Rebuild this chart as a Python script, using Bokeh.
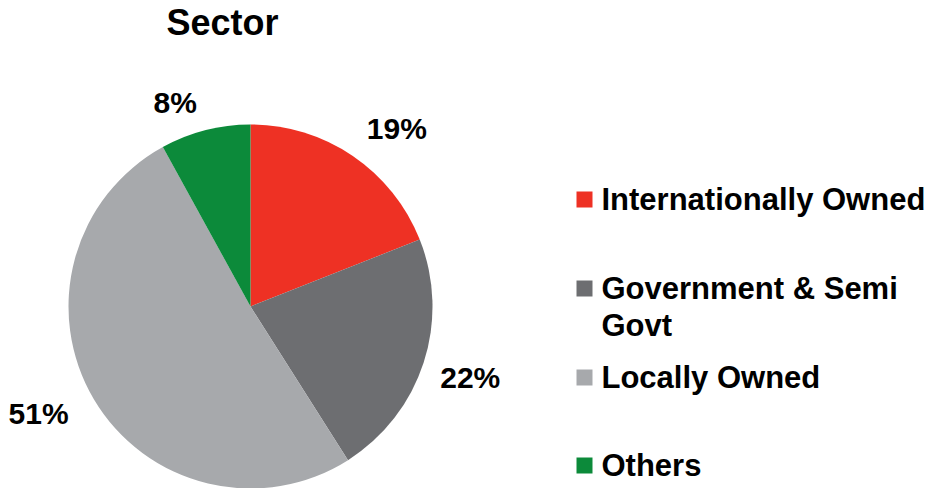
import math
from bokeh.plotting import figure
from bokeh.models import Range1d, ColumnDataSource
from bokeh.core.properties import value
from bokeh.embed import file_html
from bokeh.resources import INLINE

# ---- data ----
categories = ["Internationally Owned", "Government & Semi\nGovt", "Locally Owned", "Others"]
shares = [19, 22, 51, 8]
pct_labels = ["19%", "22%", "51%", "8%"]
colors = ["#EE3124", "#6D6E71", "#A7A9AC", "#0C8A3A"]
title_text = "Sector"

# ---- layout / style ----
W, H = 930, 488
FONT = "Liberation Sans"
cx, cy, R = 250, 182, 182
label_r = 230
label_dx = [17, 1, -14, -18]     # screen px nudges
label_dy = [12, 0, -10, 19]

total = float(sum(shares))
starts, ends, mids = [], [], []
acc = 0.0
for v in shares:
    a0 = math.pi / 2 - 2 * math.pi * acc / total
    acc += v
    a1 = math.pi / 2 - 2 * math.pi * acc / total
    starts.append(a0)
    ends.append(a1)
    mids.append((a0 + a1) / 2)

p = figure(width=W, height=H, x_range=Range1d(0, W), y_range=Range1d(0, H),
           output_backend="svg", toolbar_location=None, min_border=0)
p.axis.visible = False
p.grid.visible = False
p.outline_line_color = None
p.background_fill_color = "white"

src = ColumnDataSource(dict(start=starts, end=ends, color=colors))
p.wedge(x=cx, y=cy, radius=R, radius_units="screen", start_angle="start",
        end_angle="end", direction="clock", fill_color="color", line_color=None, source=src)

lsrc = ColumnDataSource(dict(
    x=[cx + label_r * math.cos(m) for m in mids],
    y=[cy + label_r * math.sin(m) for m in mids],
    t=pct_labels, dx=label_dx, dy=label_dy))
p.text(x="x", y="y", text="t", x_offset="dx", y_offset="dy", source=lsrc,
       text_font=value(FONT), text_font_style="bold", text_font_size="30px",
       text_align="center", text_baseline="middle", text_color="black")

# title
p.text(x=[222], y=[466], text=[title_text], text_font=value(FONT), text_font_style="bold",
       text_font_size="36px", text_align="center", text_baseline="middle", text_color="black")

# legend
leg_x = 584
leg_y = [289, 200, 111, 23]
line_gap = 37
p.rect(x=[leg_x] * 4, y=leg_y, width=16, height=16, width_units="screen",
       height_units="screen", fill_color=colors, line_color=None)
tx, ty, tt = [], [], []
for i, cat in enumerate(categories):
    for j, line in enumerate(cat.split("\n")):
        tx.append(leg_x + 17)
        ty.append(leg_y[i] - j * line_gap)
        tt.append(line)
p.text(x=tx, y=ty, text=tt, text_font=value(FONT), text_font_style="bold",
       text_font_size="31px", text_align="left", text_baseline="middle",
       text_color="black")

open("out.html", "w").write(file_html(p, INLINE))
